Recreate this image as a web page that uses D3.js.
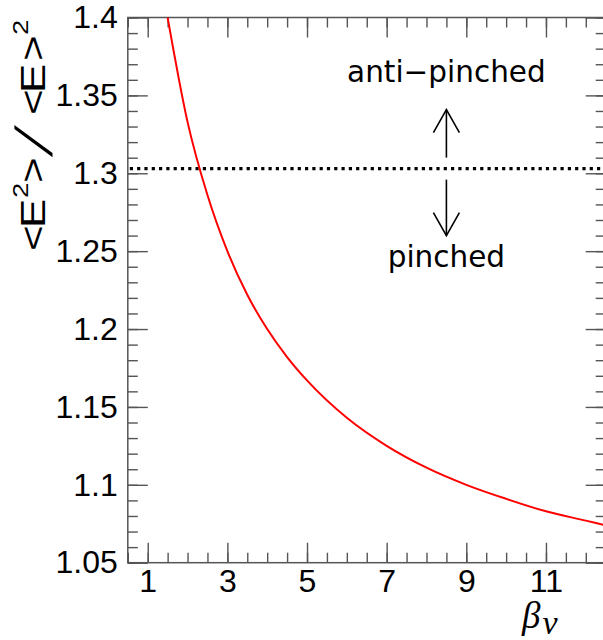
<!DOCTYPE html>
<html>
<head>
<meta charset="utf-8">
<script src="https://cdn.jsdelivr.net/npm/d3@7/dist/d3.min.js"></script>
<style>
  html, body { margin: 0; padding: 0; background: #fff; }
  svg { display: block; }
</style>
</head>
<body>
<div id="chart"></div>
<script>
// curve values
var betaValues = [1.5, 2, 2.5, 3, 3.5, 4, 4.5, 5, 6, 7, 8, 9, 10, 11, 12, 12.5];
var ratioValues = [1.400, 1.333, 1.286, 1.250, 1.222, 1.200, 1.182, 1.167, 1.143, 1.125, 1.111, 1.100, 1.091, 1.083, 1.077, 1.074];

var xDomain = [0.5, 12.5];
var yDomain = [1.05, 1.4];
var xMajorTicks = [1, 3, 5, 7, 9, 11];
var xMinorTicks = d3.range(0.5, 12.51, 0.5);
var yMajorTicks = [1.05, 1.1, 1.15, 1.2, 1.25, 1.3, 1.35, 1.4];
var yMinorTicks = d3.range(1.05, 1.4001, 0.01);
var yTickLabels = ['1.05', '1.1', '1.15', '1.2', '1.25', '1.3', '1.35', '1.4'];

var thresholdValue = 1.303;   // Fermi-Dirac with zero chemical potential
var arrowX = 8.5;
var labelAbove = 'anti\u2212pinched';
var labelBelow = 'pinched';

(function(d3) {
  'use strict';

  var width = 603, height = 640;
  var left = 127.8, right = 605.7, top = 17.5, bottom = 562.7;
  var frameColor = '#555';

  var svg = d3.select('#chart').append('svg')
      .attr('width', width)
      .attr('height', height);

  var x = d3.scaleLinear().domain(xDomain).range([left, right]);
  var y = d3.scaleLinear().domain(yDomain).range([bottom, top]);

  function styleAxis(g) {
    g.select('.domain').remove();
    g.selectAll('.tick line').attr('stroke', frameColor).attr('stroke-width', 1.4);
    g.selectAll('.tick text')
        .attr('fill', '#000')
        .style('font-family', '"Liberation Sans", Arial, sans-serif')
        .style('font-size', '32px');
  }

  // minor ticks on all four sides, no labels
  svg.append('g').attr('transform', 'translate(0,' + bottom + ')')
      .call(d3.axisBottom(x).tickValues(xMinorTicks).tickSizeInner(-10).tickSizeOuter(0).tickFormat(''))
      .call(styleAxis);
  svg.append('g').attr('transform', 'translate(0,' + top + ')')
      .call(d3.axisTop(x).tickValues(xMinorTicks).tickSizeInner(-10).tickSizeOuter(0).tickFormat(''))
      .call(styleAxis);
  svg.append('g').attr('transform', 'translate(' + left + ',0)')
      .call(d3.axisLeft(y).tickValues(yMinorTicks).tickSizeInner(-10).tickSizeOuter(0).tickFormat(''))
      .call(styleAxis);
  svg.append('g').attr('transform', 'translate(' + right + ',0)')
      .call(d3.axisRight(y).tickValues(yMinorTicks).tickSizeInner(-10).tickSizeOuter(0).tickFormat(''))
      .call(styleAxis);

  // major ticks
  svg.append('g').attr('transform', 'translate(0,' + bottom + ')')
      .call(d3.axisBottom(x).tickValues(xMajorTicks).tickSizeInner(-20).tickSizeOuter(0).tickPadding(7)
          .tickFormat(d3.format('d')))
      .call(styleAxis);
  svg.append('g').attr('transform', 'translate(0,' + top + ')')
      .call(d3.axisTop(x).tickValues(xMajorTicks).tickSizeInner(-20).tickSizeOuter(0).tickFormat(''))
      .call(styleAxis);
  svg.append('g').attr('transform', 'translate(' + left + ',0)')
      .call(d3.axisLeft(y).tickValues(yMajorTicks).tickSizeInner(-20).tickSizeOuter(0).tickPadding(10)
          .tickFormat(function(d, i) { return yTickLabels[i]; }))
      .call(styleAxis);
  svg.append('g').attr('transform', 'translate(' + right + ',0)')
      .call(d3.axisRight(y).tickValues(yMajorTicks).tickSizeInner(-20).tickSizeOuter(0).tickFormat(''))
      .call(styleAxis);

  // frame
  svg.append('rect')
      .attr('x', left).attr('y', top)
      .attr('width', right - left).attr('height', bottom - top)
      .attr('fill', 'none')
      .attr('stroke', frameColor)
      .attr('stroke-width', 1.5);

  // dotted threshold line
  svg.append('line')
      .attr('x1', x(xDomain[0]) + 2).attr('x2', x(xDomain[1]))
      .attr('y1', y(thresholdValue)).attr('y2', y(thresholdValue))
      .attr('stroke', '#000')
      .attr('stroke-width', 3.2)
      .attr('stroke-dasharray', '3.2,4.1');

  // red curve
  var pts = betaValues.map(function(b, i) { return [b, ratioValues[i]]; });
  var line = d3.line()
      .x(function(d) { return x(d[0]); })
      .y(function(d) { return y(d[1]); })
      .curve(d3.curveMonotoneX);
  svg.append('path')
      .datum(pts)
      .attr('d', line)
      .attr('fill', 'none')
      .attr('stroke', '#ff0000')
      .attr('stroke-width', 2);

  // arrows
  var ax = x(arrowX);
  function arrow(y1, y2) {
    var dir = y2 < y1 ? 1 : -1;
    svg.append('line')
        .attr('x1', ax).attr('x2', ax).attr('y1', y1).attr('y2', y2)
        .attr('stroke', '#000').attr('stroke-width', 1.6);
    svg.append('path')
        .attr('d', 'M' + (ax - 13) + ',' + (y2 + dir * 23) + 'L' + ax + ',' + y2 + 'L' + (ax + 13) + ',' + (y2 + dir * 23))
        .attr('fill', 'none').attr('stroke', '#000').attr('stroke-width', 1.6);
  }
  arrow(y(thresholdValue) - 11, y(thresholdValue) - 59);
  arrow(y(thresholdValue) + 11, y(thresholdValue) + 67);

  svg.append('text')
      .attr('x', ax).attr('y', y(thresholdValue) - 87)
      .attr('text-anchor', 'middle')
      .style('font-family', '"DejaVu Sans", sans-serif')
      .style('font-size', '29.5px')
      .text(labelAbove);
  svg.append('text')
      .attr('x', ax).attr('y', y(thresholdValue) + 98)
      .attr('text-anchor', 'middle')
      .style('font-family', '"DejaVu Sans", sans-serif')
      .style('font-size', '29.5px')
      .text(labelBelow);

  // y title, each piece placed along the rotated baseline (local units, before the 1.25 stretch)
  var s = 1.25;
  var yt = svg.append('text')
      .attr('transform', 'translate(45,250) rotate(-90) scale(' + s + ',1)')
      .style('font-family', '"Liberation Sans", Arial, sans-serif')
      .style('font-size', '35px');
  var pieces = [
    {t: '<', at: -1}, {t: 'E', at: 22}, {t: '2', at: 52, sup: true}, {t: '>', at: 67},
    {t: '<', at: 135}, {t: 'E', at: 157}, {t: '>', at: 189}, {t: '2', at: 215, sup: true}
  ];
  pieces.forEach(function(p) {
    yt.append('tspan')
        .attr('x', p.at / s)
        .attr('y', p.sup ? -17 : 0)
        .style('font-size', p.sup ? '22px' : '35px')
        .text(p.t);
  });
  // the slash is long and leaning, so it gets its own skewed text
  svg.append('text')
      .attr('transform', 'translate(45,250) rotate(-90) translate(93,7) skewX(-25)')
      .style('font-family', '"Liberation Sans", Arial, sans-serif')
      .style('font-size', '52px')
      .text('/');

  // x title
  var xt = svg.append('text')
      .attr('x', 522).attr('y', 628)
      .style('font-family', '"Liberation Serif", "Times New Roman", serif')
      .style('font-style', 'italic')
      .style('font-size', '37px');
  xt.append('tspan').text('\u03b2');
  xt.append('tspan').attr('dx', 2).attr('dy', 6).style('font-size', '34px').text('\u03bd');
})(window.d3);
</script>
</body>
</html>
